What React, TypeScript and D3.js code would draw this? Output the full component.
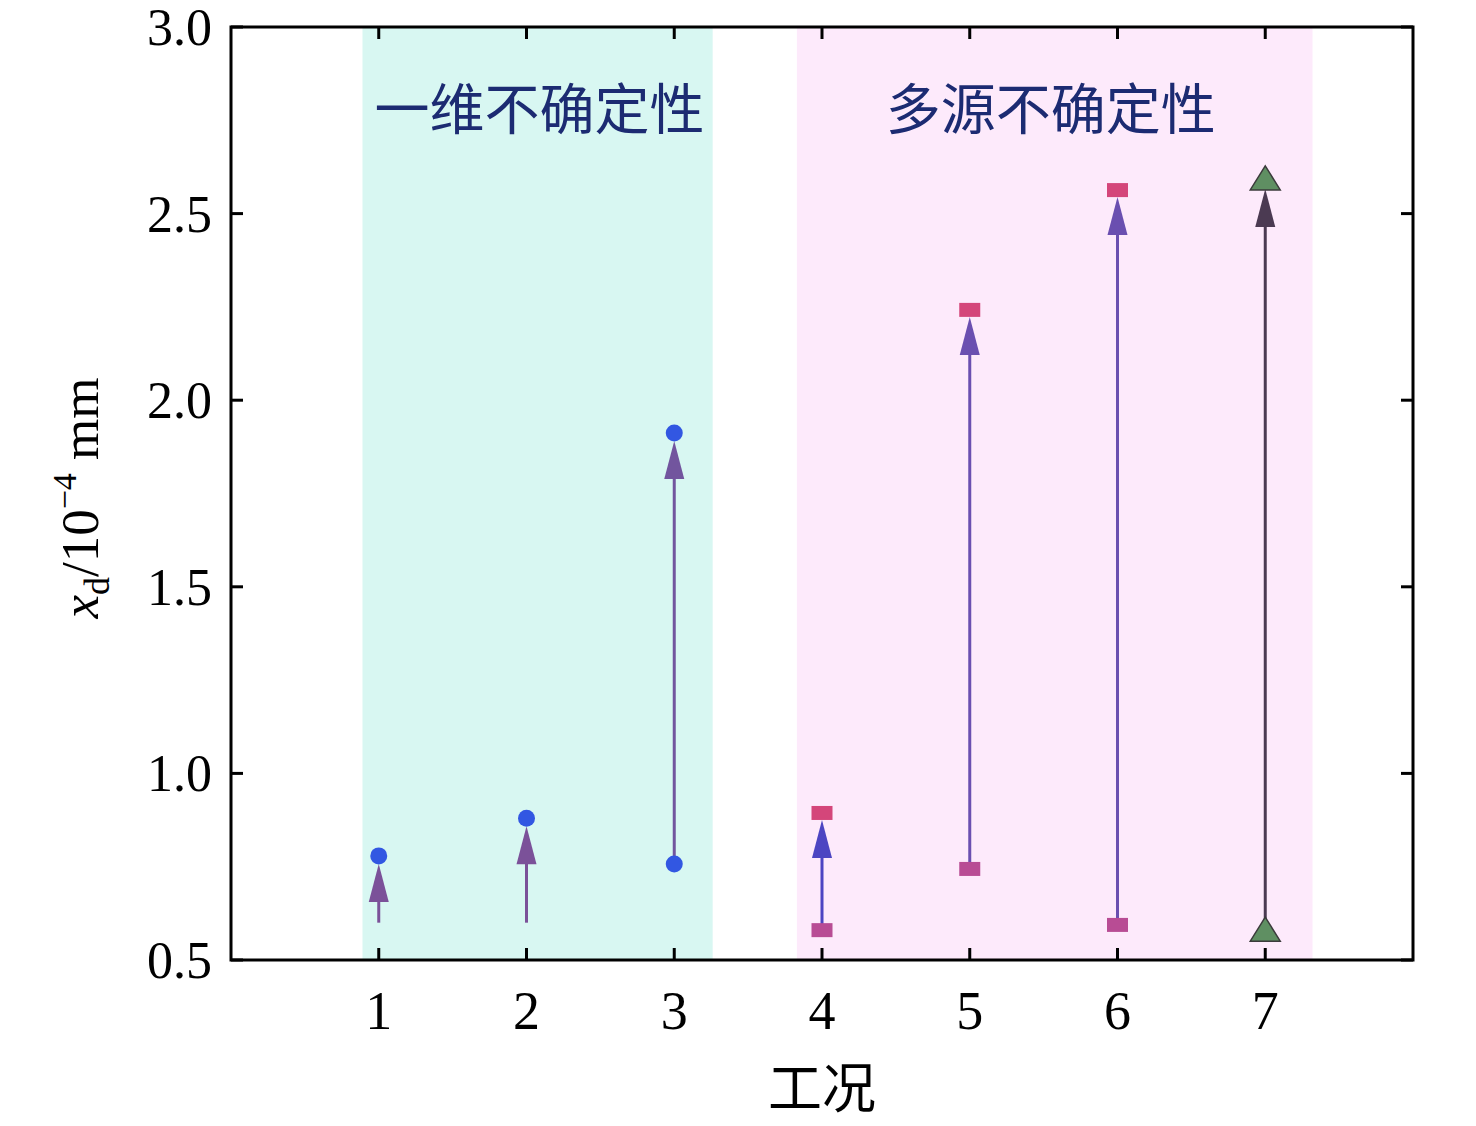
import React from "react";
import * as d3 from "d3";

const cases = [1, 2, 3, 4, 5, 6, 7];
const lowerValues = [0.6, 0.6, 0.757, 0.58, 0.744, 0.594, 0.58];
const upperValues = [0.779, 0.88, 1.912, 0.894, 2.242, 2.563, 2.593];
const markerKinds = ["circle", "circle", "circle", "square", "square", "square", "triangle"];
const showLower = [false, false, true, true, true, true, true];
const arrowColors = ["#7b5199", "#7b5199", "#72559e", "#4c45c2", "#6a4fb0", "#6a4fb0", "#4b3a52"];
const yTicks = [0.5, 1.0, 1.5, 2.0, 2.5, 3.0];
const xTicks = [1, 2, 3, 4, 5, 6, 7];
const bands = [
  { x0: 0.89, x1: 3.26, color: "#d8f7f2", label: "一维不确定性" },
  { x0: 3.83, x1: 7.32, color: "#fdeafb", label: "多源不确定性" },
];

const W = 1476, H = 1126;
const L = 231, R = 1413, T = 27, B = 960;

export default function App() {
  const x = d3.scaleLinear().domain([0, 8]).range([L, R]);
  const y = d3.scaleLinear().domain([0.5, 3.0]).range([B, T]);
  const tick = 12;
  const serif = "'Liberation Serif', 'Times New Roman', serif";
  const cjk = "'Noto Sans CJK SC', sans-serif";

  const markerHalf = (k: string) => (k === "circle" ? 8 : k === "square" ? 7 : 10);

  return (
    <svg width={W} height={H} style={{ display: "block", position: "absolute", left: 0, top: 0 }}>
      <rect x={0} y={0} width={W} height={H} fill="#fff" />
      {bands.map((b, i) => (
        <g key={i}>
          <rect x={x(b.x0)} y={T} width={x(b.x1) - x(b.x0)} height={B - T} fill={b.color} />
          <text
            x={(x(b.x0) + x(b.x1)) / 2 + (i === 0 ? 2 : -4)}
            y={129}
            textAnchor="middle"
            fontFamily={cjk}
            fontSize={55}
            fill="#1c2b72"
          >
            {b.label}
          </text>
        </g>
      ))}

      {/* arrows */}
      {cases.map((c, i) => {
        const cx = x(c);
        const y0 = y(lowerValues[i]);
        const tipY = y(upperValues[i]) + markerHalf(markerKinds[i]);
        const headH = 38, headW = 20;
        const col = arrowColors[i];
        return (
          <g key={"a" + i}>
            <line x1={cx} x2={cx} y1={y0} y2={tipY + headH - 2} stroke={col} strokeWidth={3} />
            <path
              d={`M${cx},${tipY} L${cx - headW / 2},${tipY + headH} L${cx + headW / 2},${tipY + headH} Z`}
              fill={col}
            />
          </g>
        );
      })}

      {/* markers */}
      {cases.map((c, i) => {
        const cx = x(c);
        const k = markerKinds[i];
        const vals = showLower[i] ? [lowerValues[i], upperValues[i]] : [upperValues[i]];
        return vals.map((v, j) => {
          const cy = y(v);
          const isTop = v === upperValues[i];
          if (k === "circle")
            return <circle key={`m${i}-${j}`} cx={cx} cy={cy} r={8.5} fill="#3257e2" />;
          if (k === "square")
            return (
              <rect
                key={`m${i}-${j}`}
                x={cx - 10.5}
                y={cy - 7}
                width={21}
                height={14}
                fill={isTop ? "#d4467a" : "#b84c94"}
              />
            );
          return (
            <path
              key={`m${i}-${j}`}
              d={`M${cx},${cy - 13} L${cx - 15},${cy + 11} L${cx + 15},${cy + 11} Z`}
              fill="#5f8f62"
              stroke="#3b3b3b"
              strokeWidth={1.5}
            />
          );
        });
      })}

      {/* frame */}
      <rect x={L} y={T} width={R - L} height={B - T} fill="none" stroke="#000" strokeWidth={3} />

      {/* x ticks */}
      {xTicks.map((t) => (
        <g key={"xt" + t}>
          <line x1={x(t)} x2={x(t)} y1={B} y2={B - tick} stroke="#000" strokeWidth={3} />
          <line x1={x(t)} x2={x(t)} y1={T} y2={T + tick} stroke="#000" strokeWidth={3} />
          <text x={x(t)} y={1029} textAnchor="middle" fontFamily={serif} fontSize={54} fill="#000">
            {t}
          </text>
        </g>
      ))}

      {/* y ticks */}
      {yTicks.map((t) => (
        <g key={"yt" + t}>
          <line x1={L} x2={L + tick} y1={y(t)} y2={y(t)} stroke="#000" strokeWidth={3} />
          <line x1={R} x2={R - tick} y1={y(t)} y2={y(t)} stroke="#000" strokeWidth={3} />
          <text x={212} y={y(t) + 18} textAnchor="end" fontFamily={serif} fontSize={52} fill="#000">
            {t.toFixed(1)}
          </text>
        </g>
      ))}

      {/* axis labels */}
      <text x={822} y={1108} textAnchor="middle" fontFamily={cjk} fontSize={54} fill="#000">
        工况
      </text>
      <text
        transform={`translate(98,498) rotate(-90)`}
        textAnchor="middle"
        fontFamily={serif}
        fontSize={53}
        fill="#000"
      >
        <tspan fontStyle="italic">x</tspan>
        <tspan fontSize={36} dy={11}>d</tspan>
        <tspan dy={-11}>/10</tspan>
        <tspan fontSize={34} dy={-22}>−4</tspan>
        <tspan dy={22}> mm</tspan>
      </text>
    </svg>
  );
}
